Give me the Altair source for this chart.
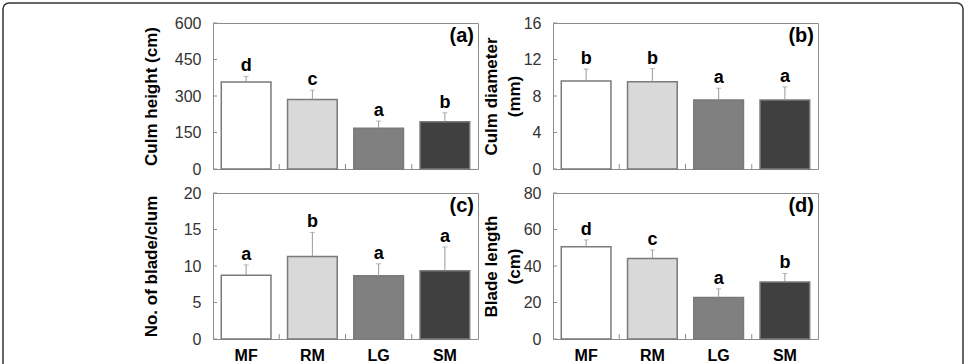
import altair as alt
import pandas as pd

# Sites (x categories) and their bar fills
groups = ["MF", "RM", "LG", "SM"]
fills = ["#ffffff", "#d9d9d9", "#808080", "#404040"]

# (a) culm height, cm
culm_height = [358, 286, 167, 194]
culm_height_sd = [23, 38, 30, 37]
culm_height_sig = ["d", "c", "a", "b"]

# (b) culm diameter, mm
culm_diameter = [9.65, 9.55, 7.55, 7.55]
culm_diameter_sd = [1.3, 1.45, 1.3, 1.45]
culm_diameter_sig = ["b", "b", "a", "a"]

# (c) number of blades per culm
blades_per_culm = [8.75, 11.3, 8.65, 9.35]
blades_per_culm_sd = [1.4, 3.3, 1.65, 3.25]
blades_per_culm_sig = ["a", "b", "a", "a"]

# (d) blade length, cm
blade_length = [50.5, 44.1, 22.8, 31.2]
blade_length_sd = [3.8, 4.7, 4.7, 4.7]
blade_length_sig = ["d", "c", "a", "b"]

ticks_a = [0, 150, 300, 450, 600]
ticks_b = [0, 4, 8, 12, 16]
ticks_c = [0, 5, 10, 15, 20]
ticks_d = [0, 20, 40, 60, 80]

W, H = 265, 146
FONT = "Liberation Sans"
FRAME = "#8c8c8c"
ERR = "#9a9a9a"


def panel(mean, sd, sig, title, ticks, tag, bottom, border=False):
    df = pd.DataFrame({
        "group": groups,
        "mean": mean,
        "upper": [m + s for m, s in zip(mean, sd)],
        "sig": sig,
    })
    x_axis = alt.Axis(
        title=None, domain=False, ticks=False, labels=bottom, labelAngle=0,
        labelFont=FONT, labelFontSize=16, labelFontWeight="bold",
        labelColor="#000000", labelPadding=8,
    )
    x_scale = alt.Scale(domain=groups, paddingInner=0, paddingOuter=0)
    x = alt.X("group:N", scale=x_scale, axis=x_axis)
    y_scale = alt.Scale(domain=[0, ticks[-1]], nice=False, zero=True)
    y_axis = alt.Axis(
        values=ticks, grid=False, domain=False, ticks=False, tickSize=0,
        labelPadding=12, labelFont=FONT, labelFontSize=16, labelColor="#333333",
        title=title, titleFont=FONT, titleFontSize=17, titleFontWeight="bold",
        titleColor="#000000", titleAngle=-90, titleX=-57, titleY=H / 2,
        titleAlign="center", titleBaseline="alphabetic", titleLineHeight=23,
    )

    def y(field):
        return alt.Y(field, type="quantitative", scale=y_scale, axis=y_axis)

    base = alt.Chart(df)
    bars = base.mark_bar(
        width=alt.RelativeBandSize(0.75), stroke="#7a7a7a", strokeWidth=1.5
    ).encode(
        x=x, y=y("mean"),
        fill=alt.Fill("group:N", scale=alt.Scale(domain=groups, range=fills), legend=None),
    )
    err = base.mark_rule(color=ERR, strokeWidth=1).encode(x=x, y=y("mean"), y2="upper")
    cap = base.mark_tick(color=ERR, size=5, thickness=1).encode(x=x, y=y("upper"))
    letters = base.mark_text(
        font=FONT, fontSize=18, fontWeight="bold", baseline="alphabetic",
        dy=-5, color="#000000",
    ).encode(x=x, y=y("upper"), text="sig:N")

    inner_ticks = alt.Chart(pd.DataFrame({"tick": ticks})).mark_rule(
        color=FRAME, strokeWidth=1
    ).encode(y=y("tick"), x=alt.value(0), x2=alt.value(4))

    dividers = alt.Chart(pd.DataFrame({"group": groups[1:]})).mark_rule(
        color=FRAME, strokeWidth=1
    ).encode(
        x=alt.X("group:N", bandPosition=0, scale=x_scale, axis=x_axis),
        y=alt.value(H), y2=alt.value(H - 5),
    )

    label = alt.Chart(pd.DataFrame({"tag": [tag]})).mark_text(
        font=FONT, fontSize=20, fontWeight="bold", align="right",
        baseline="alphabetic", color="#000000",
    ).encode(x=alt.value(W - 4), y=alt.value(19), text="tag:N")

    layers = [bars, err, cap, letters, inner_ticks, dividers, label]
    if border:
        outline = alt.Chart(pd.DataFrame({"k": [0]})).mark_rect(
            filled=False, stroke="#333333", strokeWidth=1.5, cornerRadius=6
        ).encode(
            x=alt.value(-210), x2=alt.value(750),
            y=alt.value(-20), y2=alt.value(400),
        )
        layers = [outline] + layers
    return alt.layer(*layers).properties(width=W, height=H)


pa = panel(culm_height, culm_height_sd, culm_height_sig, "Culm height (cm)",
           ticks_a, "(a)", False, border=True)
pb = panel(culm_diameter, culm_diameter_sd, culm_diameter_sig,
           ["Culm diameter", "(mm)"], ticks_b, "(b)", False)
pc = panel(blades_per_culm, blades_per_culm_sd, blades_per_culm_sig,
           "No. of blade/clum", ticks_c, "(c)", True)
pd_ = panel(blade_length, blade_length_sd, blade_length_sig,
            ["Blade length", "(cm)"], ticks_d, "(d)", True)

chart = alt.concat(
    pa, pb, pc, pd_, columns=2,
    spacing={"row": 24, "column": 75}, bounds="flush",
).properties(
    padding={"left": 1, "top": 1, "right": 0, "bottom": 0},
    background="#ffffff",
).configure_view(stroke=FRAME, strokeWidth=1)

chart.save("out.html", embed_options={"renderer": "svg", "actions": False})
